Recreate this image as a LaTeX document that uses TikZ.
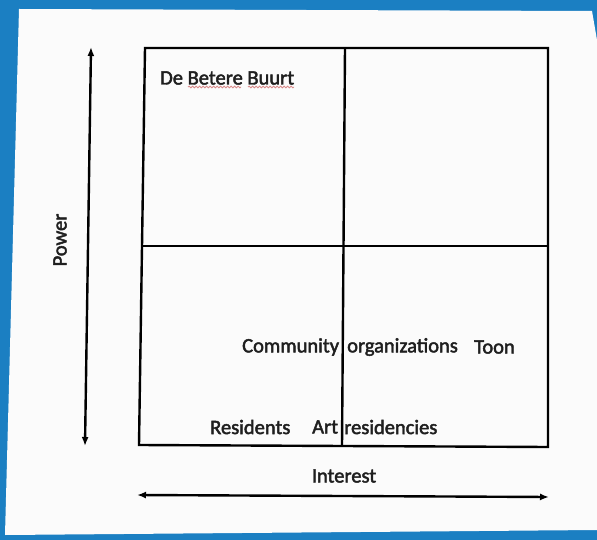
\documentclass[tikz,border=0pt]{standalone}
\usepackage{fontspec}
\setmainfont{Carlito}
\newfontfamily\printfont{Carlito}[FakeBold=2.2]
\usetikzlibrary{arrows.meta,decorations.pathmorphing}
\definecolor{deskblue}{HTML}{1B7FC2}
\definecolor{paper}{HTML}{FBFBFB}
\definecolor{spellred}{HTML}{D98A8A}
\begin{document}
\begin{tikzpicture}[x=1pt,y=-1pt,
  frame/.style={line width=2.4pt,line join=miter},
  axis/.style={line width=2.4pt,{Latex[length=9pt,width=7pt]}-{Latex[length=9pt,width=7pt]}},
  lbl/.style={inner sep=0pt,font=\printfont\fontsize{20.5}{23}\selectfont,text=black!88},
  squiggle/.style={spellred,line width=0.8pt,decorate,decoration={snake,amplitude=0.9pt,segment length=3.5pt}}]
  \useasboundingbox (0,0) rectangle (597,540);
  % desk and sheet of paper
  \fill[deskblue] (0,0) rectangle (597,540);
  \fill[paper] (19,9) -- (592,11) -- (597,40) -- (597,530) -- (5,535) -- cycle;

  % grid corners
  \coordinate (tl) at (145,48);
  \coordinate (tr) at (548,48);
  \coordinate (br) at (548,447);
  \coordinate (bl) at (139,445);
  \coordinate (mt) at (345,48);
  \coordinate (mb) at (342,446);
  \coordinate (ml) at (142,246);
  \coordinate (mr) at (548,246);

  \draw[frame] (tl) -- (tr) -- (br) -- (bl) -- cycle;
  \draw[frame] (mt) -- (mb);
  \draw[frame] (ml) -- (mr);

  % axes
  \coordinate (ptop) at (91,47);
  \coordinate (pbot) at (85,446);
  \draw[axis] (pbot) -- (ptop);
  \coordinate (ileft) at (137,495);
  \coordinate (iright) at (549,497);
  \draw[axis] (ileft) -- (iright);

  \node[lbl,rotate=90] (power) at (60,240) {Power};
  \node[lbl] (interest) at (344,476) {Interest};

  % stakeholders
  \node[lbl,anchor=west] (bb) at (160,78) {De Betere Buurt};
  \draw[squiggle] (188,87) -- (241,87);
  \draw[squiggle] (248,87) -- (294,87);
  \node[lbl,anchor=west] (co) at (242,347) {Community};
  \node[lbl,anchor=west] (org) at (347,347) {organizations};
  \node[lbl,anchor=west] (toon) at (474,347) {Toon};
  \node[lbl,anchor=west] (res) at (210,427) {Residents};
  \node[lbl,anchor=west] (art) at (312,427) {Art};
  \node[lbl,anchor=west] (resid) at (344,427) {residencies};
\end{tikzpicture}
\end{document}
